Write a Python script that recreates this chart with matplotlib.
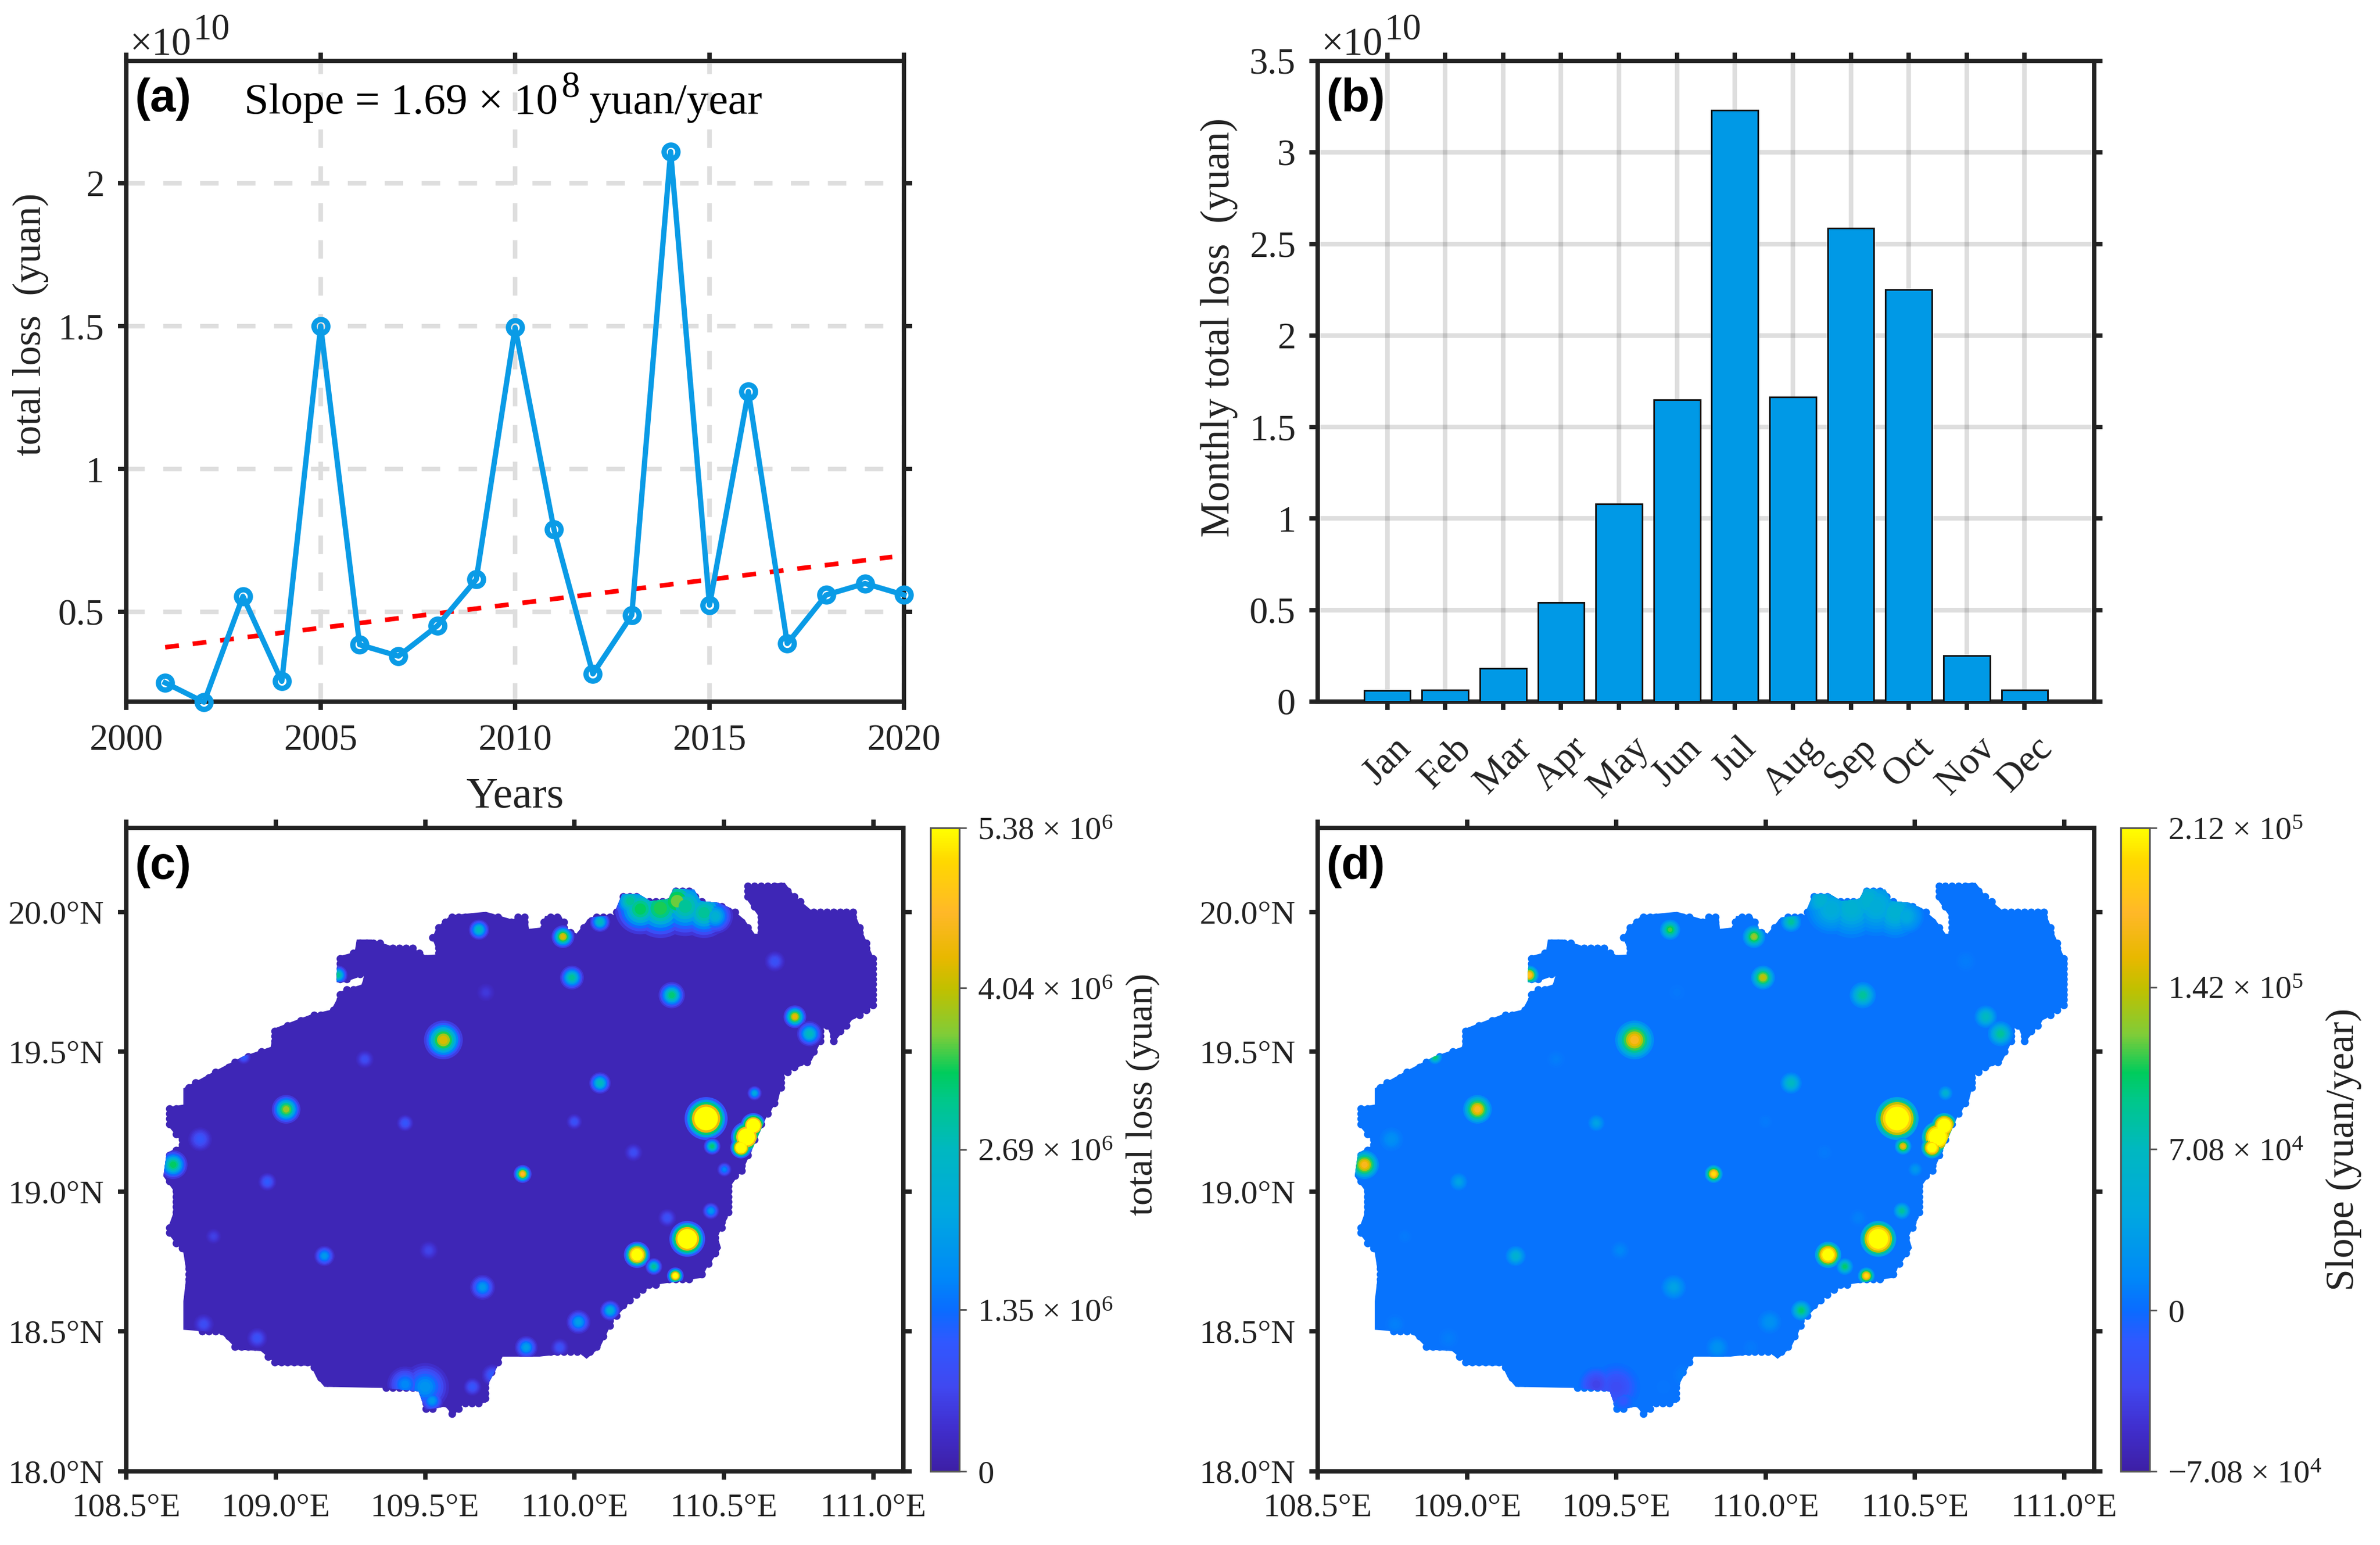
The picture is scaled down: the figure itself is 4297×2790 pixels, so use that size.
"""
Four panel figure of yearly and monthly total loss with maps of total loss and slope.
"""

import matplotlib

matplotlib.use("Agg")
import matplotlib.pyplot as plt
import numpy as np
from matplotlib.cm import ScalarMappable
from matplotlib.colors import LinearSegmentedColormap, Normalize
from matplotlib.patches import Polygon
from matplotlib.path import Path

plt.rcParams["font.family"] = ["Liberation Serif", "DejaVu Sans"]
plt.rcParams["mathtext.fontset"] = "custom"
plt.rcParams["mathtext.rm"] = "Liberation Serif"
plt.rcParams["mathtext.it"] = "Liberation Serif:italic"

years = list(range(2001, 2021))
yearly_loss = [0.253, 0.185, 0.555, 0.258, 1.50, 0.386, 0.346, 0.452, 0.614, 1.495,
               0.789, 0.284, 0.489, 2.11, 0.524, 1.271, 0.39, 0.56, 0.60, 0.56]
trend_years = [2001, 2019.7]
trend_loss = [0.377, 0.693]

months = ["Jan", "Feb", "Mar", "Apr", "May", "Jun", "Jul", "Aug", "Sep", "Oct", "Nov", "Dec"]
monthly_loss = [0.06, 0.065, 0.18, 0.54, 1.08, 1.65, 3.23, 1.665, 2.585, 2.25, 0.25, 0.065]

# island outline, degrees
island_lon = [109.204, 109.208, 109.264, 109.271, 109.321, 109.399, 109.455, 109.500, 109.545,
              109.523, 109.539, 109.586, 109.703, 109.793, 109.815, 109.842, 109.847, 109.889,
              109.901, 109.955, 109.977, 110.006, 110.051, 110.130, 110.159, 110.215, 110.254,
              110.314, 110.332, 110.400, 110.422, 110.478, 110.523, 110.568, 110.602, 110.620,
              110.613, 110.580, 110.575, 110.703, 110.737, 110.793, 110.935, 110.962, 111.002,
              111.002, 110.962, 110.928, 110.867, 110.838, 110.827, 110.793, 110.703, 110.681,
              110.643, 110.602, 110.568, 110.523, 110.512, 110.478, 110.490, 110.445, 110.422,
              110.265, 110.209, 110.130, 110.085, 110.040, 110.013, 109.883, 109.759, 109.714,
              109.703, 109.624, 109.595, 109.568, 109.500, 109.478, 109.366, 109.163, 109.136,
              109.118, 109.006, 108.950, 108.871, 108.815, 108.691, 108.691, 108.702, 108.691,
              108.635, 108.657, 108.657, 108.624, 108.635, 108.691, 108.639, 108.642, 108.691,
              108.691, 108.804, 108.893, 108.983, 108.995, 109.118, 109.186, 109.219, 109.287,
              109.298, 109.231, 109.204]
island_lat = [19.782, 19.840, 19.856, 19.901, 19.901, 19.873, 19.873, 19.845, 19.848,
              19.906, 19.944, 19.988, 20.000, 19.972, 19.988, 19.985, 19.939, 19.944,
              19.985, 19.985, 19.939, 19.922, 19.980, 19.988, 20.063, 20.063, 20.038,
              20.046, 20.083, 20.079, 20.038, 20.033, 20.013, 19.972, 19.922, 19.922,
              19.988, 20.038, 20.093, 20.104, 20.055, 20.005, 20.000, 19.931, 19.831,
              19.666, 19.633, 19.613, 19.531, 19.608, 19.542, 19.468, 19.421, 19.327,
              19.269, 19.170, 19.088, 19.021, 18.906, 18.840, 18.798, 18.732, 18.691,
              18.666, 18.633, 18.542, 18.443, 18.402, 18.426, 18.410, 18.410, 18.319,
              18.245, 18.236, 18.198, 18.231, 18.220, 18.286, 18.298, 18.302, 18.336,
              18.377, 18.380, 18.430, 18.435, 18.496, 18.506, 18.608, 18.707, 18.782,
              18.856, 18.922, 19.005, 19.055, 19.137, 19.170, 19.236, 19.302, 19.311,
              19.369, 19.435, 19.484, 19.517, 19.583, 19.633, 19.650, 19.716, 19.740,
              19.774, 19.749, 19.749]

# local peaks
spot_lon = [110.440, 110.598, 110.575, 110.557, 110.377, 110.209, 110.337, 109.561, 109.035,
            109.826, 110.325, 109.991, 110.737, 110.786, 109.680, 109.961, 109.208, 108.657,
            110.085, 109.163, 109.692, 109.433, 110.013, 110.119, 109.838, 108.972, 109.512,
            110.460, 110.265, 109.500, 109.433, 109.523, 110.186, 110.287, 110.343, 110.433,
            110.085, 110.456, 110.501, 110.602, 108.893,
            110.220, 110.370, 110.470, 109.703, 110.670, 109.298, 110.197, 109.999, 108.747,
            108.759, 108.938, 108.792, 109.950, 109.725, 110.310, 109.658]
spot_lat = [19.261, 19.236, 19.195, 19.157, 18.831, 18.774, 18.699, 19.542, 19.294,
            19.063, 19.702, 19.765, 19.625, 19.564, 19.936, 19.911, 19.774, 19.096,
            19.388, 18.770, 18.658, 19.245, 18.534, 18.575, 18.443, 19.035, 18.790,
            19.162, 18.732, 18.302, 18.311, 18.253, 20.038, 20.013, 20.038, 19.997,
            19.964, 18.931, 19.079, 19.352, 19.481,
            20.010, 20.020, 19.985, 19.712, 19.823, 19.473, 19.140, 19.250, 19.187,
            18.526, 18.476, 18.840, 18.443, 18.344, 18.906, 18.302]
spot_radius = [0.072, 0.042, 0.052, 0.036, 0.060, 0.044, 0.028, 0.065, 0.048,
               0.030, 0.044, 0.040, 0.038, 0.042, 0.034, 0.038, 0.032, 0.048,
               0.036, 0.034, 0.042, 0.028, 0.040, 0.034, 0.038, 0.030, 0.032,
               0.028, 0.028, 0.080, 0.060, 0.038, 0.060, 0.100, 0.095, 0.085,
               0.034, 0.028, 0.024, 0.024, 0.024,
               0.085, 0.100, 0.060, 0.030, 0.034, 0.030, 0.030, 0.026, 0.040,
               0.034, 0.034, 0.026, 0.030, 0.036, 0.030, 0.030]
spot_loss = [8.6, 9.0, 9.0, 8.0, 8.6, 7.5, 6.0, 4.2, 3.8,
             4.7, 3.2, 3.0, 4.3, 2.7, 2.7, 4.2, 3.0, 3.3,
             2.7, 1.9, 1.9, 1.0, 2.0, 2.4, 2.0, 1.1, 0.65,
             3.2, 3.0, 1.8, 1.6, 1.9, 3.0, 3.4, 3.6, 3.0,
             2.7, 1.9, 1.6, 2.2, 1.1,
             3.3, 3.0, 2.4, 0.5, 0.9, 0.8, 0.8, 0.9, 1.0,
             0.8, 0.9, 0.6, 0.9, 1.1, 0.9, 1.0]
spot_slope = [38, 38, 40, 30, 38, 30, 20, 17, 17,
              20, 8.5, 14, 7, 8.5, 11.3, 12.7, 18.4, 17,
              7, 5.6, 3.7, 3.7, 2.3, 9.9, 2.3, 3.7, 1.4,
              16, 10, -2.8, -3.7, -1.4, 5.6, 5.6, 5.6, 5.6,
              8.5, 8.5, 2.8, 5.6, 9.9,
              5.0, 5.0, 4.6, 0.6, 0.8, 0.9, 0.7, 0.7, 2.0,
              1.0, 0.9, 0.7, 0.7, 0.8, 1.0, 0.5]
loss_background = 0.16
slope_background = 0.4

loss_ticks = [0, 1.35, 2.69, 4.04, 5.38]
loss_ticklabels = ["0", "1.35 × 10$^{6}$", "2.69 × 10$^{6}$", "4.04 × 10$^{6}$", "5.38 × 10$^{6}$"]
slope_ticks = [-7.08, 0, 7.08, 14.2, 21.2]
slope_ticklabels = ["−7.08 × 10$^{4}$", "0", "7.08 × 10$^{4}$", "1.42 × 10$^{5}$", "2.12 × 10$^{5}$"]

lon_ticks = [108.5, 109.0, 109.5, 110.0, 110.5, 111.0]
lon_ticklabels = ["108.5°E", "109.0°E", "109.5°E", "110.0°E", "110.5°E", "111.0°E"]
lat_ticks = [18.0, 18.5, 19.0, 19.5, 20.0]
lat_ticklabels = ["18.0°N", "18.5°N", "19.0°N", "19.5°N", "20.0°N"]

cmap_stops = [
    (0.00, "#3d1fa6"), (0.07, "#4030d0"), (0.13, "#4048f0"), (0.20, "#3058ff"),
    (0.25, "#0a6cff"), (0.30, "#0088f8"), (0.40, "#00a8e0"), (0.50, "#00b8c0"),
    (0.58, "#00c888"), (0.62, "#00cc5c"), (0.68, "#80cc38"), (0.75, "#c0c000"),
    (0.80, "#e8b800"), (0.87, "#ffb828"), (0.95, "#ffd800"), (1.00, "#ffff00"),
]
map_cmap = LinearSegmentedColormap.from_list("map_cmap", cmap_stops, N=256)

FIG_W, FIG_H = 4297, 2790
DARK = "#222222"
LINE_BLUE = "#0a9be6"
BAR_BLUE = "#0099e6"


def add_axes_px(fig, left, top, right, bottom):
    return fig.add_axes([left / FIG_W, 1 - bottom / FIG_H, (right - left) / FIG_W, (bottom - top) / FIG_H])


def text_px(fig, x, y, s, size, color=DARK):
    fig.text(x / FIG_W, 1 - y / FIG_H, s, fontsize=size, color=color, ha="left", va="baseline")


def style_box(ax):
    for spine in ax.spines.values():
        spine.set_linewidth(1.9)
        spine.set_color(DARK)
    ax.tick_params(direction="out", length=3.6, width=1.9, color=DARK, labelcolor=DARK,
                   top=True, right=True, labelsize=16, pad=6)


def draw_map(ax, spot_values, background, vmin, vmax):
    land_color = map_cmap((background - vmin) / (vmax - vmin))
    land = Polygon(list(zip(island_lon, island_lat)), closed=True, facecolor=land_color, edgecolor="none", zorder=2)
    ax.add_patch(land)
    # coarse cells along the coast give the stepped edge of the gridded data
    cell_lon, cell_lat = np.meshgrid(np.arange(108.6, 111.05, 0.022), np.arange(18.15, 20.15, 0.0185))
    cells = np.column_stack([cell_lon.ravel(), cell_lat.ravel()])
    cells = cells[Path(list(zip(island_lon, island_lat))).contains_points(cells)]
    ax.scatter(cells[:, 0], cells[:, 1], color=land_color, s=11, linewidths=0, zorder=2)
    # each local peak is drawn as rings from its edge to its centre
    levels = [0.1, 0.22, 0.36, 0.5, 0.65, 0.8, 0.92, 1.0]
    scales = [1.0, 0.88, 0.77, 0.66, 0.55, 0.44, 0.33, 0.22]
    for level, scale in zip(levels, scales):
        ring_values = [background + (v - background) * level for v in spot_values]
        ring_sizes = [(2 * r * scale * 539 / 300 * 72) ** 2 for r in spot_radius]
        rings = ax.scatter(spot_lon, spot_lat, c=ring_values, s=ring_sizes, cmap=map_cmap,
                           vmin=vmin, vmax=vmax, linewidths=0, zorder=3)
        rings.set_clip_path(land)
    ax.set_xlim(108.5, 111.1)
    ax.set_ylim(18.0, 20.3)
    ax.set_xticks(lon_ticks, lon_ticklabels)
    ax.set_yticks(lat_ticks, lat_ticklabels)
    style_box(ax)
    ax.tick_params(labelsize=14.5)


def draw_colorbar(fig, cax, vmin, vmax, ticks, ticklabels, label, size, label_y, pad):
    bar = fig.colorbar(ScalarMappable(Normalize(vmin, vmax), map_cmap), cax=cax)
    bar.set_ticks(ticks, labels=ticklabels)
    bar.ax.tick_params(length=3, width=0.7, color="#555555", labelsize=14, labelcolor=DARK, pad=5)
    bar.outline.set_linewidth(0.8)
    bar.outline.set_edgecolor("#555555")
    bar.set_label(label, fontsize=size, color=DARK, y=label_y, labelpad=pad)


fig = plt.figure(figsize=(FIG_W / 300, FIG_H / 300), dpi=300, facecolor="white")

# (a) yearly series
ax_a = add_axes_px(fig, 228, 110, 1632, 1267)
ax_a.plot(years, yearly_loss, "-o", color=LINE_BLUE, lw=2.3, ms=6, mfc="none", mew=2.3, clip_on=False, zorder=4)
ax_a.plot(trend_years, trend_loss, color="red", lw=2, dashes=(3, 3), zorder=3)
ax_a.set_xlim(2000, 2020)
ax_a.set_ylim(0.187, 2.427)
ax_a.set_xticks([2000, 2005, 2010, 2015, 2020])
ax_a.set_yticks([0.5, 1, 1.5, 2], ["0.5", "1", "1.5", "2"])
ax_a.grid(True, color="#dedede", lw=2, dashes=(4, 4))
ax_a.set_axisbelow(True)
style_box(ax_a)
ax_a.set_xlabel("Years", fontsize=19, color=DARK, labelpad=8.5)
ax_a.set_ylabel("total loss  (yuan)", fontsize=17, color=DARK, labelpad=4, y=0.589)
text_px(fig, 441, 205, "Slope = 1.69 × 10", 19, "black")
text_px(fig, 1014, 175, "8", 16, "black")
text_px(fig, 1064, 205, "yuan/year", 19, "black")

# (b) monthly bars
ax_b = add_axes_px(fig, 2379, 110, 3781, 1267)
ax_b.bar(range(1, 13), monthly_loss, width=0.8, color=BAR_BLUE, edgecolor="#111111", linewidth=0.7, zorder=3)
ax_b.set_xlim(-0.2, 13.2)
ax_b.set_ylim(0, 3.5)
ax_b.set_xticks(range(1, 13), months, rotation=45, ha="center")
ax_b.set_yticks([0, 0.5, 1, 1.5, 2, 2.5, 3, 3.5], ["0", "0.5", "1", "1.5", "2", "2.5", "3", "3.5"])
ax_b.grid(True, color="black", alpha=0.13, lw=2)
ax_b.set_axisbelow(True)
style_box(ax_b)
ax_b.tick_params(axis="x", labelsize=16.5, pad=9)
ax_b.set_ylabel("Monthly total loss  (yuan)", fontsize=17.5, color=DARK, labelpad=5, y=0.584)

for offset in (0, 2151):
    text_px(fig, 234 + offset, 100, "×10", 17)
    text_px(fig, 348 + offset, 72, "10", 16)

# (c) and (d) maps
ax_c = add_axes_px(fig, 228, 1495, 1631, 2657)
draw_map(ax_c, spot_loss, loss_background, 0, 5.38)
cax_c = add_axes_px(fig, 1680, 1495, 1732, 2657)
draw_colorbar(fig, cax_c, 0, 5.38, loss_ticks, loss_ticklabels, "total loss (yuan)", 16.3, 0.586, 5.5)

ax_d = add_axes_px(fig, 2379, 1495, 3781, 2657)
draw_map(ax_d, spot_slope, slope_background, -7.08, 21.2)
cax_d = add_axes_px(fig, 3829, 1495, 3881, 2657)
draw_colorbar(fig, cax_d, -7.08, 21.2, slope_ticks, slope_ticklabels, "Slope (yuan/year)", 17.2, 0.5, 1.5)

for ax, letter in zip((ax_a, ax_b, ax_c, ax_d), "abcd"):
    ax.text(0.011, 0.94, f"({letter})", transform=ax.transAxes, family="Liberation Sans",
            fontweight="bold", fontsize=20, color="black", va="center", ha="left", zorder=6)

fig.savefig("out.png", dpi=300)
